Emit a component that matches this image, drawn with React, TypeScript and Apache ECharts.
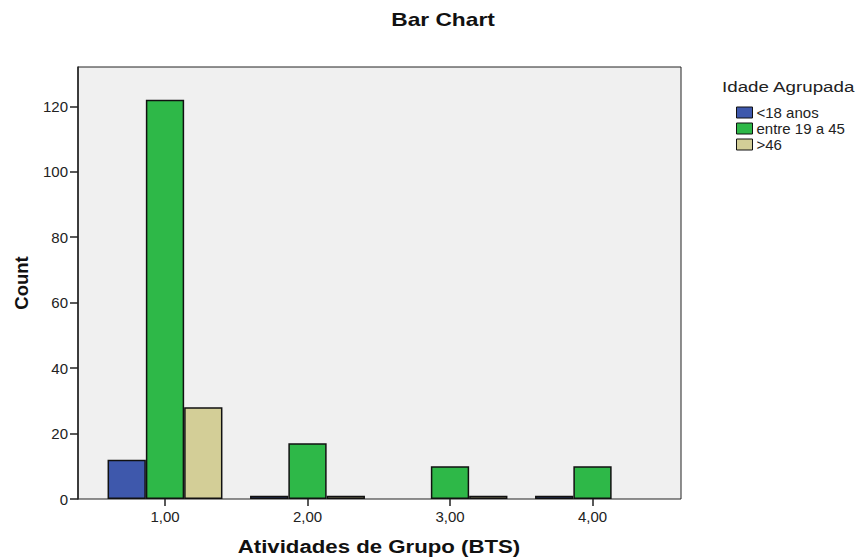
import React, { useEffect, useRef } from "react";
import * as echarts from "echarts";

const categories = ["1,00", "2,00", "3,00", "4,00"];
const seriesNames = ["<18 anos", "entre 19 a 45", ">46"];
const under18 = [12, 1, 0, 1];
const between19and45 = [122, 17, 10, 10];
const over46 = [28, 1, 1, 0];
const colors = ["#3e58ac", "#2eb848", "#d3ce97"];
const yTicks = { min: 0, max: 132, interval: 20 };

const chartTitle = "Bar Chart";
const legendTitle = "Idade Agrupada";
const xAxisTitle = "Atividades de Grupo (BTS)";
const yAxisTitle = "Count";

const FONT = "'Liberation Sans', Arial, sans-serif";

export default function App() {
  const ref = useRef<HTMLDivElement>(null);
  useEffect(() => {
    if (!ref.current) return;
    const chart = echarts.init(ref.current, null, { renderer: "svg" });
    const values = [under18, between19and45, over46];
    chart.setOption({
      animation: false,
      backgroundColor: "#ffffff",
      textStyle: { fontFamily: FONT },
      graphic: [
        {
          type: "text",
          x: 443,
          y: 20,
          scaleX: 1.3,
          style: {
            text: chartTitle,
            fontSize: 17.5,
            fontWeight: "bold",
            fill: "#111",
            fontFamily: FONT,
            align: "center",
            verticalAlign: "middle",
          },
        },
        {
          type: "text",
          x: 722,
          y: 87,
          scaleX: 1.25,
          style: {
            text: legendTitle,
            fontSize: 15,
            fill: "#222",
            fontFamily: FONT,
            align: "left",
            verticalAlign: "middle",
          },
        },
        {
          type: "text",
          x: 379,
          y: 546,
          scaleX: 1.17,
          style: {
            text: xAxisTitle,
            fontSize: 19,
            fontWeight: "bold",
            fill: "#111",
            fontFamily: FONT,
            align: "center",
            verticalAlign: "middle",
          },
        },
      ],
      legend: {
        orient: "vertical",
        left: 731,
        top: 100,
        itemWidth: 16,
        itemHeight: 11,
        itemGap: 1,
        icon: "rect",
        data: seriesNames,
        itemStyle: { borderColor: "#111", borderWidth: 1 },
        textStyle: { fontSize: 15, color: "#222", fontFamily: FONT, padding: [0, 0, 0, -1] },
      },
      grid: [
        {
          left: 78,
          top: 67,
          width: 603,
          height: 432,
          show: true,
          backgroundColor: "#f0f0f0",
          borderColor: "#222",
          borderWidth: 1,
          outerBoundsMode: "none",
          containLabel: false,
        },
        {
          left: 93.75,
          top: 67,
          width: 570,
          height: 432,
          outerBoundsMode: "none",
          containLabel: false,
        },
      ],
      xAxis: [
        { gridIndex: 0, type: "value", show: false, min: 0, max: 1 },
        {
          gridIndex: 1,
          type: "category",
          data: categories,
          axisLine: { show: false },
          axisTick: { show: true, alignWithLabel: true, length: 7, lineStyle: { color: "#222", width: 1.5 } },
          axisLabel: { fontSize: 15, color: "#222", margin: 10, fontFamily: FONT },
        },
      ],
      yAxis: [
        {
          gridIndex: 0,
          type: "value",
          min: yTicks.min,
          max: yTicks.max,
          interval: yTicks.interval,
          axisLine: { show: true, lineStyle: { color: "#222", width: 1.5 } },
          axisTick: { show: true, length: 8, lineStyle: { color: "#222", width: 1.5 } },
          axisLabel: { fontSize: 15, color: "#222", margin: 10, fontFamily: FONT, showMaxLabel: false },
          splitLine: { show: false },
          name: yAxisTitle,
          nameLocation: "middle",
          nameGap: 47,
          nameTextStyle: { fontSize: 18.5, fontWeight: "bold", color: "#111", fontFamily: FONT },
        },
        {
          gridIndex: 1,
          type: "value",
          min: yTicks.min,
          max: yTicks.max,
          show: false,
        },
      ],
      series: seriesNames.map((name, i) => ({
        name,
        type: "bar",
        xAxisIndex: 1,
        yAxisIndex: 1,
        data: values[i].map((v) => (v === 0 ? "-" : v)),
        barWidth: 38.3,
        barGap: "0%",
        itemStyle: { color: colors[i], borderColor: "#111", borderWidth: 1.5 },
      })),
    });
    return () => chart.dispose();
  }, []);
  return (
    <div
      ref={ref}
      style={{ position: "fixed", left: 0, top: 0, width: 861, height: 558 }}
    />
  );
}
